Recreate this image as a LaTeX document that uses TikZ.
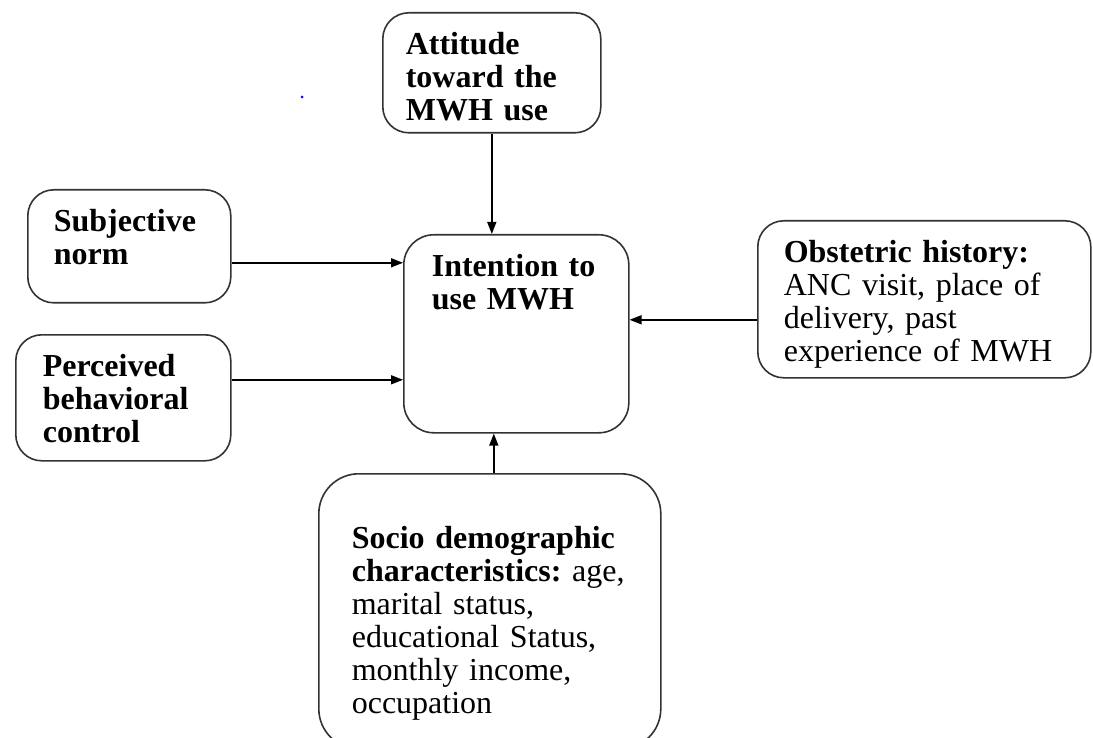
\documentclass[tikz,border=0pt]{standalone}
\usepackage{fontspec}
\setmainfont{Liberation Serif}
\frenchspacing
\usetikzlibrary{positioning,arrows.meta}

\begin{document}
\begin{tikzpicture}[
    x=1pt, y=-1pt, >={Triangle[length=12pt,width=9pt]},
    every node/.style={font=\fontsize{32}{33}\selectfont},
    box/.style={draw=black!80, line width=1.6pt, rounded corners=26pt,
      anchor=north west, align=left, inner ysep=20pt, text height=22pt},
    link/.style={->, line width=1.6pt}
]
\useasboundingbox (0,0) rectangle (1093,738);
\clip (0,0) rectangle (1093,738);

\node[box, inner xsep=23pt, text width=172pt, text depth=58pt] (att) at (382,12)
  {\textbf{Attitude}\\ \textbf{toward the}\\ \textbf{MWH use}};
\node[box, inner xsep=26pt, text width=151pt, text depth=51pt] (subj) at (27,189)
  {\textbf{Subjective}\\ \textbf{norm}};
\node[box, inner xsep=27pt, text width=161pt, text depth=64pt] (perc) at (15,334)
  {\textbf{Perceived}\\ \textbf{behavioral}\\ \textbf{control}};
\node[box, inner xsep=28pt, text width=169pt, text depth=136pt, rounded corners=30pt] (int) at (403,234)
  {\textbf{Intention to}\\ \textbf{use MWH}};
\node[box, inner xsep=26pt, text width=281pt, text depth=95pt] (obs) at (757,220)
  {\textbf{Obstetric history:}\\ ANC visit, place of\\ delivery, past\\ experience of MWH};
\node[box, inner xsep=33pt, text width=276pt, text height=55pt, text depth=180pt, rounded corners=40pt] (soc) at (318,473)
  {\textbf{Socio demographic}\\ \mbox{\textbf{characteristics:} age,}\\ marital status,\\ educational Status,\\ monthly income,\\ occupation};

\fill[blue] (302,97) circle (1.5pt);

\draw[link] (att.south) -- (att.south |- int.north);
\draw[link] ([yshift=-16.5pt]subj.east) -- ([yshift=-16.5pt]subj.east -| int.west);
\draw[link] ([yshift=18pt]perc.east) -- ([yshift=18pt]perc.east -| int.west);
\draw[link] ([yshift=-20.5pt]obs.west) -- ([yshift=-20.5pt]obs.west -| int.east);
\draw[link] ([xshift=4pt]soc.north) -- ([xshift=4pt]soc.north |- int.south);
\end{tikzpicture}
\end{document}
